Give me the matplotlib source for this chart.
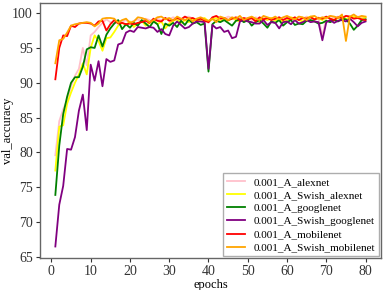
import numpy as np
import matplotlib
matplotlib.use("Agg")
import matplotlib.pyplot as plt

plt.rcParams['font.family'] = ['Liberation Serif', 'DejaVu Serif']
plt.rcParams['font.size'] = 10

epochs = list(range(1, 81))

alexnet = [79.6, 84.5, 86.2, 87.5, 89.5, 91.0, 92.0, 95.0, 92.5, 96.8,
           97.3, 98.0, 98.6, 99.1, 98.7, 98.5, 98.9, 98.8, 99.0, 98.6,
           98.9, 99.1, 98.8, 99.2, 99.0, 98.7, 99.2, 99.0, 99.3, 99.1,
           99.4, 99.2, 99.0, 99.4, 99.5, 99.2, 99.0, 99.3, 99.2, 98.6,
           99.3, 99.0, 99.4, 99.2, 99.5, 99.3, 99.1, 99.4, 99.2, 99.3,
           99.0, 99.4, 99.2, 99.5, 99.1, 99.3, 99.0, 99.4, 99.2, 99.5,
           99.3, 99.1, 99.4, 99.2, 99.5, 99.3, 99.0, 99.4, 96.6, 99.4,
           99.6, 99.3, 99.5, 99.2, 99.6, 99.4, 99.3, 99.5, 99.4, 99.3]

swish_alexnet = [77.4, 83.7, 83.9, 87.0, 88.6, 90.0, 91.2, 92.8, 91.2, 95.0,
                 96.8, 96.0, 94.6, 96.4, 96.5, 97.3, 98.2, 98.6, 98.3, 98.8,
                 98.0, 98.5, 98.9, 98.2, 98.6, 99.0, 98.4, 98.8, 97.8, 98.5,
                 98.9, 99.1, 98.6, 99.0, 98.7, 99.2, 98.9, 99.0, 99.3, 98.8,
                 99.1, 99.3, 98.8, 99.2, 98.9, 99.3, 99.0, 98.8, 99.2, 99.0,
                 99.4, 99.1, 98.7, 99.2, 99.0, 99.3, 98.9, 99.2, 98.7, 99.0,
                 99.4, 99.2, 99.0, 98.8, 99.3, 99.5, 99.1, 99.3, 99.0, 99.4,
                 99.2, 99.0, 99.3, 99.6, 99.1, 99.4, 99.5, 99.3, 99.2, 99.4]

googlenet = [73.9, 81.0, 85.5, 88.0, 90.0, 90.8, 90.8, 92.3, 94.8, 95.1,
             95.0, 96.8, 95.2, 96.9, 97.8, 98.5, 99.0, 97.7, 98.4, 97.9,
             98.6, 98.2, 99.0, 98.5, 98.0, 98.8, 98.4, 97.0, 98.5, 98.2,
             98.6, 98.0, 98.9, 98.3, 99.1, 98.5, 98.7, 98.3, 98.5, 91.6,
             98.4, 98.9, 98.7, 99.0, 98.6, 98.2, 98.9, 99.1, 98.7, 99.0,
             98.2, 98.7, 99.0, 98.5, 97.9, 98.8, 98.6, 99.0, 98.2, 98.7,
             99.0, 98.3, 98.5, 98.4, 98.9, 99.0, 98.8, 98.5, 98.6, 98.9,
             98.7, 99.0, 98.8, 99.2, 99.1, 98.5, 97.6, 98.2, 99.0, 99.1]

swish_googlenet = [66.5, 72.5, 75.2, 80.5, 80.4, 82.2, 86.0, 88.3, 83.2, 92.6,
                   90.3, 93.1, 89.5, 93.4, 93.0, 93.2, 95.5, 95.7, 97.2, 97.5,
                   97.3, 98.0, 97.9, 97.8, 98.0, 97.9, 97.3, 97.7, 97.0, 96.8,
                   98.2, 98.8, 98.3, 97.8, 98.0, 98.5, 98.8, 98.8, 98.7, 92.0,
                   98.3, 97.8, 98.0, 97.3, 97.5, 96.4, 96.6, 98.8, 99.0, 98.8,
                   98.7, 98.5, 98.5, 99.0, 98.3, 98.7, 98.6, 97.8, 98.7, 98.8,
                   98.4, 99.0, 98.5, 98.7, 99.0, 98.7, 98.8, 98.7, 96.1, 98.7,
                   99.0, 98.6, 98.9, 99.0, 98.8, 99.2, 98.7, 98.1, 98.6, 98.8]

mobilenet = [90.5, 95.0, 96.8, 96.7, 98.2, 98.0, 98.5, 98.6, 98.6, 98.5,
             98.2, 98.8, 98.9, 97.5, 98.4, 99.0, 98.5, 98.6, 98.4, 98.5,
             98.4, 98.6, 98.7, 98.9, 98.6, 99.2, 98.9, 98.8, 99.3, 98.9,
             99.0, 99.3, 99.1, 99.5, 99.2, 99.3, 99.0, 99.2, 98.9, 98.7,
             99.4, 99.6, 99.2, 99.3, 99.0, 99.2, 99.4, 99.0, 99.3, 99.1,
             99.3, 98.8, 99.4, 99.1, 99.3, 99.0, 99.2, 99.4, 99.0, 99.3,
             99.1, 99.4, 99.0, 99.3, 99.2, 99.4, 99.1, 99.3, 99.2, 99.5,
             99.2, 99.0, 99.4, 99.3, 99.6, 99.5, 99.2, 99.3, 99.1, 99.0]

swish_mobilenet = [92.8, 96.1, 96.3, 97.2, 98.2, 98.4, 98.5, 98.6, 98.7, 98.6,
                   98.1, 98.5, 99.2, 99.3, 99.3, 99.2, 98.6, 99.0, 99.2, 98.6,
                   98.8, 99.4, 99.3, 99.1, 98.7, 99.0, 99.4, 99.5, 99.1, 99.3,
                   98.9, 99.5, 99.2, 99.0, 99.3, 98.8, 99.2, 99.4, 99.1, 98.9,
                   99.2, 98.7, 99.5, 99.3, 99.0, 99.4, 99.2, 99.6, 99.0, 99.3,
                   99.5, 99.2, 99.0, 99.6, 99.4, 99.2, 99.5, 99.1, 99.4, 99.6,
                   99.3, 99.1, 99.5, 99.4, 99.0, 99.5, 99.6, 99.2, 99.4, 99.3,
                   99.6, 99.5, 99.3, 99.8, 96.0, 99.5, 99.8, 99.4, 99.6, 99.5]

series = [
    ("0.001_A_alexnet", alexnet, "pink"),
    ("0.001_A_Swish_alexnet", swish_alexnet, "yellow"),
    ("0.001_A_googlenet", googlenet, "green"),
    ("0.001_A_Swish_googlenet", swish_googlenet, "purple"),
    ("0.001_A_mobilenet", mobilenet, "red"),
    ("0.001_A_Swish_mobilenet", swish_mobilenet, "orange"),
]

fig = plt.figure(figsize=(3.83, 2.9), dpi=100)
ax = fig.add_axes([0.104, 0.110, 0.891, 0.880])

for label, vals, color in series:
    ax.plot(epochs, vals, color=color, linewidth=1.3, label=label)

ax.set_xticks([0, 10, 20, 30, 40, 50, 60, 70, 80])
ax.set_yticks([65, 70, 75, 80, 85, 90, 95, 100])
ax.set_xlabel("epochs", fontsize=9, labelpad=1)
ax.set_ylabel("val_accuracy", fontsize=9)
ax.yaxis.set_label_coords(-0.077, 0.5)

for sp in ax.spines.values():
    sp.set_color("#666666")
    sp.set_linewidth(1.0)
ax.tick_params(colors="#333333", labelsize=10, length=3, width=0.8, pad=2)

leg = ax.legend(loc="lower right", fontsize=8, fancybox=False,
                edgecolor="#999999", handlelength=1.6, labelspacing=0.3,
                borderaxespad=0.15, borderpad=0.35, handletextpad=0.8)

fig.savefig("out.png", dpi=100)
